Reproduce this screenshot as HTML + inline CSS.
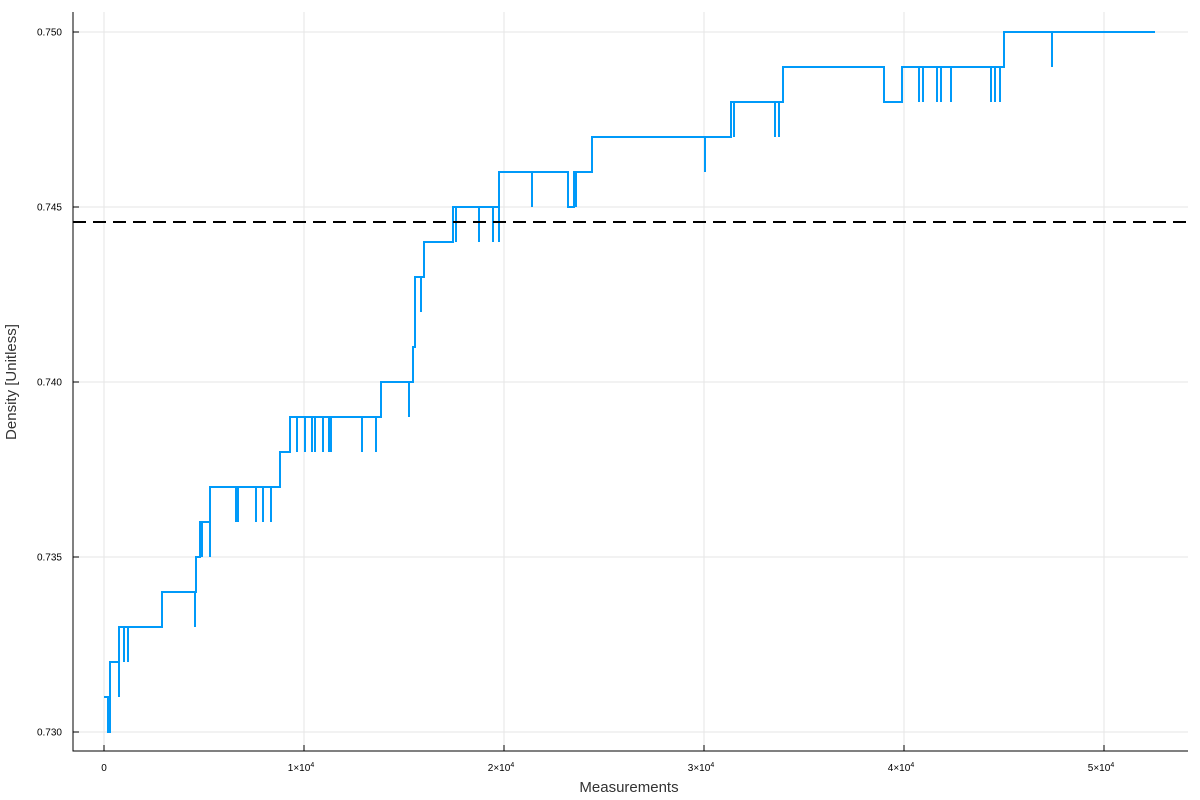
<!DOCTYPE html>
<html><head><meta charset="utf-8"><style>
body{margin:0;background:#fff}
svg{display:block;font-family:"Liberation Sans",sans-serif}
</style></head><body>
<svg id="chart" width="1200" height="800"></svg>
<script>
const seriesX=[0,200,300,750,750,1000,1000,1200,1200,2900,4550,4550,4600,4800,4900,4900,5300,5300,6600,6600,6700,6700,7600,7600,7950,7950,8350,8350,8800,9300,
9650,9650,10050,10050,10400,10400,10550,10550,10950,10950,11250,11250,11350,11350,12900,12900,13600,13600,
13850,15250,15250,15450,15550,15850,15850,16000,17450,17600,17600,18750,18750,19450,19450,19750,19750,21400,21400,23200,23500,23600,23600,24400,
30050,30050,31350,31500,31500,33550,33550,33750,33750,33950,39000,39900,
40750,40750,40950,40950,41650,41650,41850,41850,42350,42350,44350,44350,44550,44550,44800,44800,45000,47400,47400,52550];
const seriesY=[0.731,0.730,0.732,0.731,0.733,0.732,0.733,0.732,0.733,0.734,0.733,0.734,0.735,0.736,0.735,0.736,0.735,0.737,0.736,0.737,0.736,0.737,0.736,0.737,0.736,0.737,0.736,0.737,0.738,0.739,
0.738,0.739,0.738,0.739,0.738,0.739,0.738,0.739,0.738,0.739,0.738,0.739,0.738,0.739,0.738,0.739,0.738,0.739,
0.740,0.739,0.740,0.741,0.743,0.742,0.743,0.744,0.745,0.744,0.745,0.744,0.745,0.744,0.745,0.744,0.746,0.745,0.746,0.745,0.746,0.745,0.746,0.747,
0.746,0.747,0.748,0.747,0.748,0.747,0.748,0.747,0.748,0.749,0.748,0.749,
0.748,0.749,0.748,0.749,0.748,0.749,0.748,0.749,0.748,0.749,0.748,0.749,0.748,0.749,0.748,0.749,0.750,0.749,0.750,0.750];
const refValue=0.74457;
const xTicks=[0,10000,20000,30000,40000,50000];
const xTickLabels=["0","1","2","3","4","5"];
const yTicks=[0.730,0.735,0.740,0.745,0.750];
const yTickLabels=["0.730","0.735","0.740","0.745","0.750"];

const NS="http://www.w3.org/2000/svg";
const svg=document.getElementById('chart');
const L=73,R=1188,T=12,B=751;
const sx=v=>104+v*0.02;
const sy=v=>32+(0.750-v)*35000;
function mk(tag,attrs,parent){const e=document.createElementNS(NS,tag);for(const k in attrs)e.setAttribute(k,attrs[k]);(parent||svg).appendChild(e);return e;}

yTicks.forEach((v,i)=>{
  const g=mk('line',{x1:L,x2:R,y1:sy(v),y2:sy(v),stroke:'#e6e6e6','stroke-width':1});
  
  
  const t=mk('line',{x1:L,x2:L+6,y1:sy(v),y2:sy(v),stroke:'#000','stroke-width':1});
  
  
  const l=mk('text',{x:62,y:sy(v)+3.5,'text-anchor':'end','font-size':10,fill:'#000'});
  l.textContent=yTickLabels[i];
  
  
});
xTicks.forEach((v,i)=>{
  const g=mk('line',{x1:sx(v),x2:sx(v),y1:T,y2:B,stroke:'#e6e6e6','stroke-width':1});
  
  
  const t=mk('line',{x1:sx(v),x2:sx(v),y1:B,y2:B-6,stroke:'#000','stroke-width':1});
  
  
  const l=mk('text',{x:sx(v),y:771,'text-anchor':'middle','font-size':10,fill:'#000'});
  
  
  if(i===0){l.textContent=xTickLabels[i];}
  else{
    l.setAttribute('x',sx(v)-3);
    l.textContent=xTickLabels[i]+"\u00d710";
    const s=mk('tspan',{dy:-4,'font-size':7},l);s.textContent="4";
  }
});
const ax=mk('path',{d:`M${L},${T}V${B}H${R}`,fill:'none',stroke:'#000','stroke-width':1});



let d=`M${sx(seriesX[0])},${sy(seriesY[0])}`;
for(let i=1;i<seriesX.length;i++){d+=`H${sx(seriesX[i])}V${sy(seriesY[i])}`;}
const p=mk('path',{d:d,fill:'none',stroke:'#009af9','stroke-width':2,'stroke-linejoin':'miter'});



const ref=mk('line',{x1:L,x2:R,y1:sy(refValue),y2:sy(refValue),stroke:'#000','stroke-width':2,'stroke-dasharray':'13 7'});



const xt=mk('text',{x:629,y:792,'text-anchor':'middle','font-size':15,fill:'#333'});
xt.textContent='Measurements';


const yt=mk('text',{x:0,y:0,'text-anchor':'middle','font-size':15,fill:'#333',transform:'translate(16,382) rotate(-90)'});
yt.textContent='Density [Unitless]';


</script>
</body></html>
